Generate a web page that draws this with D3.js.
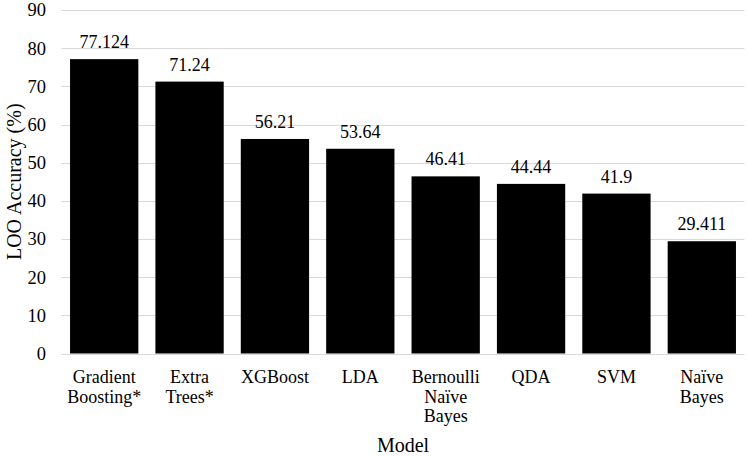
<!DOCTYPE html>
<html><head><meta charset="utf-8">
<script src="https://cdn.jsdelivr.net/npm/d3@7"></script>
<style>body{margin:0;background:#fff}svg{display:block}text{font-family:"Liberation Serif","Times New Roman",serif;fill:#000}</style>
</head><body>
<svg id="c" width="747" height="456"></svg>
<script>
const categories = [["Gradient","Boosting*"],["Extra","Trees*"],["XGBoost"],["LDA"],["Bernoulli","Naïve","Bayes"],["QDA"],["SVM"],["Naïve","Bayes"]];
const values = [77.124, 71.24, 56.21, 53.64, 46.41, 44.44, 41.9, 29.411];
const valueLabels = ["77.124","71.24","56.21","53.64","46.41","44.44","41.9","29.411"];
const yTicks = [0,10,20,30,40,50,60,70,80,90];

(function(){
const svg = d3.select("#c");
const pL = 61.5, pR = 744.5, pT = 10, pB = 353.5;
const keys = categories.map((c,i)=>i);
const x = d3.scaleBand().domain(keys).range([pL,pR]).paddingInner(0.2).paddingOuter(0.1);
const y = d3.scaleLinear().domain([0,90]).range([pB,pT]);

svg.append("g").selectAll("line").data(yTicks).join("line")
  .attr("x1",pL).attr("x2",pR)
  .attr("y1",d=>Math.round(y(d))+0.5).attr("y2",d=>Math.round(y(d))+0.5)
  .attr("stroke","#d9d9d9").attr("stroke-width",1);

svg.append("g").selectAll("text").data(yTicks).join("text")
  .attr("x",46).attr("y",d=>y(d)).attr("dy","0.35em")
  .attr("text-anchor","end").attr("font-size",18.5).text(d=>d);

svg.append("g").selectAll("rect").data(values).join("rect")
  .attr("x",(d,i)=>x(i)).attr("width",x.bandwidth())
  .attr("y",d=>y(d)).attr("height",d=>y(0)-y(d)).attr("fill","#000");

svg.append("g").selectAll("text").data(values).join("text")
  .attr("x",(d,i)=>x(i)+x.bandwidth()/2).attr("y",d=>y(d)-11)
  .attr("text-anchor","middle").attr("font-size",18).text((d,i)=>valueLabels[i]);

const cg = svg.append("g").selectAll("text").data(categories).join("text")
  .attr("text-anchor","middle").attr("font-size",18)
  .attr("transform",(d,i)=>`translate(${x(i)+x.bandwidth()/2},383)`);
cg.selectAll("tspan").data(d=>d).join("tspan")
  .attr("x",0).attr("y",(d,j)=>j*19.5).text(d=>d);

svg.append("text").attr("x",(pL+pR)/2).attr("y",452).attr("text-anchor","middle").attr("font-size",20).text("Model");
svg.append("text").attr("transform",`translate(21,${(pT+pB)/2}) rotate(-90)`).attr("text-anchor","middle").attr("font-size",20).text("LOO Accuracy (%)");
})();
</script>
</body></html>
